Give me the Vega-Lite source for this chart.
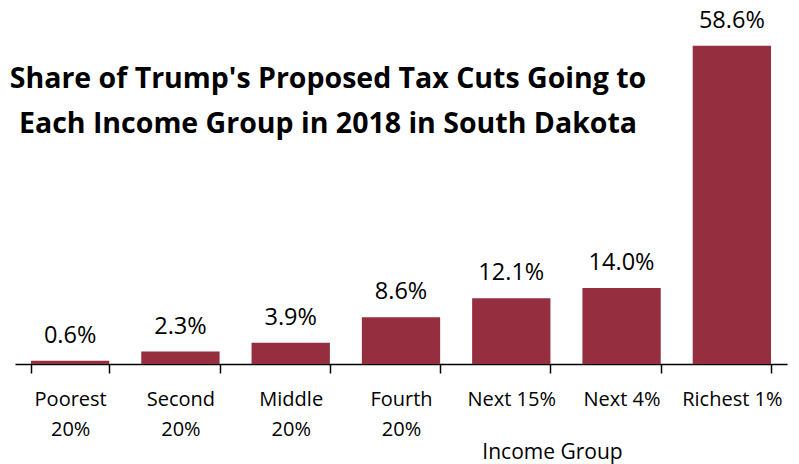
{
  "$schema": "https://vega.github.io/schema/vega-lite/v6.json",
  "width": 772,
  "height": 364,
  "autosize": "none",
  "padding": {"left": 15, "top": 0, "right": 12, "bottom": 100},
  "background": "white",
  "config": {"view": {"stroke": null}, "font": "Open Sans"},
  "title": {
    "text": ["Share of Trump's Proposed Tax Cuts Going to", "Each Income Group in 2018 in South Dakota"],
    "orient": "top",
    "anchor": "middle",
    "frame": "group",
    "baseline": "top",
    "offset": 0,
    "dx": -73,
    "dy": 138,
    "fontSize": 28.5,
    "fontWeight": "bold",
    "font": "Open Sans",
    "lineHeight": 45,
    "color": "black"
  },
  "data": {
    "values": [
      {"group": "Poorest 20%", "share": 0.6},
      {"group": "Second 20%", "share": 2.3},
      {"group": "Middle 20%", "share": 3.9},
      {"group": "Fourth 20%", "share": 8.6},
      {"group": "Next 15%", "share": 12.1},
      {"group": "Next 4%", "share": 14.0},
      {"group": "Richest 1%", "share": 58.6}
    ]
  },
  "encoding": {
    "x": {
      "field": "group",
      "type": "nominal",
      "sort": null,
      "scale": {"paddingInner": 0.29, "paddingOuter": 0.145},
      "axis": {
        "title": "Income Group",
        "titleFont": "Open Sans",
        "titleFontSize": 21,
        "titleFontWeight": "normal",
        "titleColor": "black",
        "titleX": 537,
        "titleY": 88,
        "titleBaseline": "middle",
        "labelAngle": 0,
        "labelFont": "Open Sans",
        "labelFontSize": 20,
        "labelColor": "black",
        "labelLineHeight": 30,
        "labelPadding": 16,
        "labelExpr": "indexof(datum.label, '20%') > 0 ? split(datum.label, ' ') : datum.label",
        "tickBand": "extent",
        "tickSize": 9,
        "tickColor": "black",
        "tickWidth": 1.5,
        "domainColor": "black",
        "domainWidth": 1.5,
        "grid": false
      }
    },
    "y": {
      "field": "share",
      "type": "quantitative",
      "scale": {"domain": [0, 67], "nice": false},
      "axis": null
    }
  },
  "layer": [
    {"mark": {"type": "bar", "color": "#952E3F"}},
    {
      "mark": {"type": "text", "baseline": "middle", "dy": -25, "fontSize": 23.5, "font": "Open Sans", "color": "black",
        "text": {"expr": "format(datum.share, '.1f') + '%'"}}
    }
  ]
}
